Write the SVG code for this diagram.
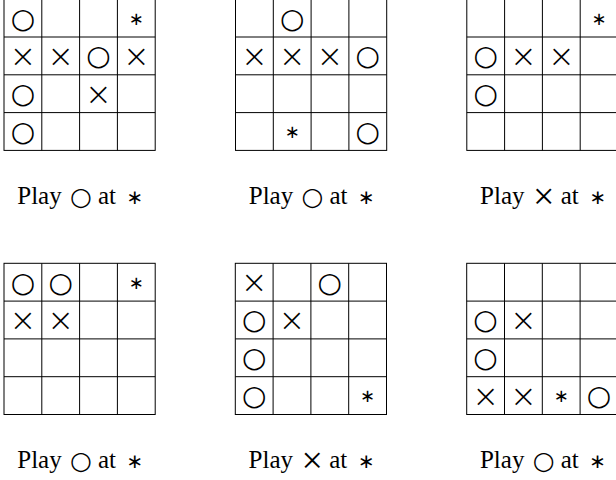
<svg xmlns="http://www.w3.org/2000/svg" width="616" height="480" viewBox="0 0 616 480">
<style>
.g{fill:none;stroke:#000;stroke-width:1}
.m{text-anchor:middle;dominant-baseline:central;fill:#000}
.o{font-family:"DejaVu Sans",sans-serif;font-size:28px}
.x{font-family:"DejaVu Sans",sans-serif;font-size:32px;font-weight:200}
.s{font-family:"DejaVu Sans",sans-serif;font-size:18px}
.t{font-family:"Liberation Serif","Times New Roman",serif;font-size:25px;text-anchor:middle;fill:#000}
.lo{font-family:"DejaVu Sans",sans-serif;font-size:25px}
.lx{font-size:38px}
.ls{font-family:"DejaVu Sans",sans-serif;font-size:20px}
</style>
<defs>
<g id="grid" class="g">
<rect x="0" y="0" width="151.2" height="151.2"/>
<path d="M37.8 0V151.2M75.6 0V151.2M113.4 0V151.2M0 37.8H151.2M0 75.6H151.2M0 113.4H151.2"/>
</g>
</defs>
<rect width="616" height="480" fill="#fff"/>
<g id="board1" transform="translate(4,-0.8)">
<use href="#grid"/>
<text class="m o" x="18.9" y="18.9">○</text>
<text class="m s" x="132.3" y="18.9">∗</text>
<text class="m x" x="18.9" y="56.7">×</text>
<text class="m x" x="56.7" y="56.7">×</text>
<text class="m o" x="94.5" y="56.7">○</text>
<text class="m x" x="132.3" y="56.7">×</text>
<text class="m o" x="18.9" y="94.5">○</text>
<text class="m x" x="94.5" y="94.5">×</text>
<text class="m o" x="18.9" y="132.3">○</text>
<text class="t"><tspan x="35.5" y="204.6">Play</tspan><tspan class="lo" x="77" y="205.8">○</tspan><tspan x="103" y="204.6">at</tspan><tspan class="ls" x="131" y="204.8">∗</tspan></text>
</g>
<g id="board2" transform="translate(235.5,-0.8)">
<use href="#grid"/>
<text class="m o" x="56.7" y="18.9">○</text>
<text class="m x" x="18.9" y="56.7">×</text>
<text class="m x" x="56.7" y="56.7">×</text>
<text class="m x" x="94.5" y="56.7">×</text>
<text class="m o" x="132.3" y="56.7">○</text>
<text class="m s" x="56.7" y="132.3">∗</text>
<text class="m o" x="132.3" y="132.3">○</text>
<text class="t"><tspan x="35.5" y="204.6">Play</tspan><tspan class="lo" x="77" y="205.8">○</tspan><tspan x="103" y="204.6">at</tspan><tspan class="ls" x="131" y="204.8">∗</tspan></text>
</g>
<g id="board3" transform="translate(466.8,-0.8)">
<use href="#grid"/>
<text class="m s" x="132.3" y="18.9">∗</text>
<text class="m o" x="18.9" y="56.7">○</text>
<text class="m x" x="56.7" y="56.7">×</text>
<text class="m x" x="94.5" y="56.7">×</text>
<text class="m o" x="18.9" y="94.5">○</text>
<text class="t"><tspan x="35.5" y="204.6">Play</tspan><tspan class="lx" x="77" y="209.8">×</tspan><tspan x="103" y="204.6">at</tspan><tspan class="ls" x="131" y="204.8">∗</tspan></text>
</g>
<g id="board4" transform="translate(4,263.3)">
<use href="#grid"/>
<text class="m o" x="18.9" y="18.9">○</text>
<text class="m o" x="56.7" y="18.9">○</text>
<text class="m s" x="132.3" y="18.9">∗</text>
<text class="m x" x="18.9" y="56.7">×</text>
<text class="m x" x="56.7" y="56.7">×</text>
<text class="t"><tspan x="35.5" y="204.6">Play</tspan><tspan class="lo" x="77" y="205.8">○</tspan><tspan x="103" y="204.6">at</tspan><tspan class="ls" x="131" y="204.8">∗</tspan></text>
</g>
<g id="board5" transform="translate(235.3,263.3)">
<use href="#grid"/>
<text class="m x" x="18.9" y="18.9">×</text>
<text class="m o" x="94.5" y="18.9">○</text>
<text class="m o" x="18.9" y="56.7">○</text>
<text class="m x" x="56.7" y="56.7">×</text>
<text class="m o" x="18.9" y="94.5">○</text>
<text class="m o" x="18.9" y="132.3">○</text>
<text class="m s" x="132.3" y="132.3">∗</text>
<text class="t"><tspan x="35.5" y="204.6">Play</tspan><tspan class="lx" x="77" y="209.8">×</tspan><tspan x="103" y="204.6">at</tspan><tspan class="ls" x="131" y="204.8">∗</tspan></text>
</g>
<g id="board6" transform="translate(466.7,263.3)">
<use href="#grid"/>
<text class="m o" x="18.9" y="56.7">○</text>
<text class="m x" x="56.7" y="56.7">×</text>
<text class="m o" x="18.9" y="94.5">○</text>
<text class="m x" x="18.9" y="132.3">×</text>
<text class="m x" x="56.7" y="132.3">×</text>
<text class="m s" x="94.5" y="132.3">∗</text>
<text class="m o" x="132.3" y="132.3">○</text>
<text class="t"><tspan x="35.5" y="204.6">Play</tspan><tspan class="lo" x="77" y="205.8">○</tspan><tspan x="103" y="204.6">at</tspan><tspan class="ls" x="131" y="204.8">∗</tspan></text>
</g>
</svg>
